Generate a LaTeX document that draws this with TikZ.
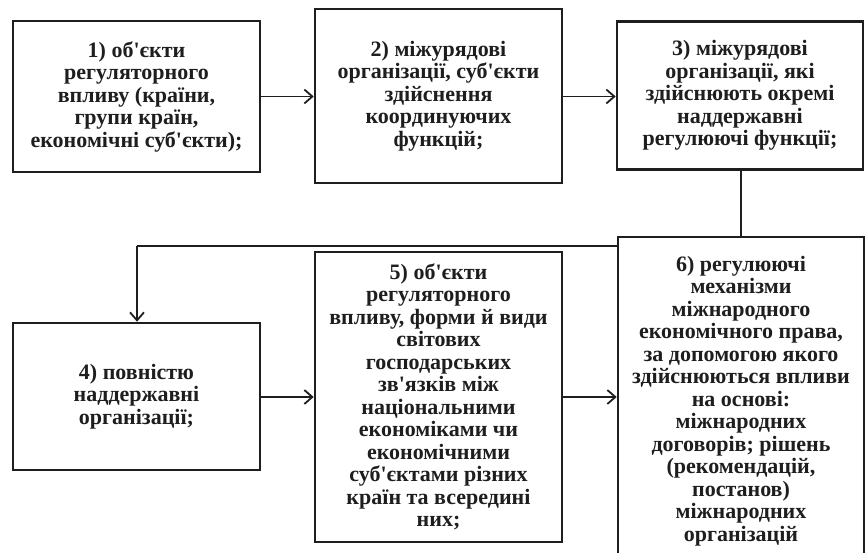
\documentclass[tikz,border=0pt]{standalone}
\usepackage{fontspec}
\setmainfont{Liberation Serif}
\usetikzlibrary{arrows.meta}
\newcommand\ap{\textquotesingle}
\definecolor{ink}{HTML}{1E1E1E}
\begin{document}
\begin{tikzpicture}[x=1pt,y=-1pt,
  box/.style={draw=ink, line width=2.6pt, fill=white, rectangle, inner sep=0pt,
    align=center, text=ink, font=\fontsize{22}{22.5}\selectfont\bfseries},
  conn/.style={draw=ink, line width=1.8pt},
  arr/.style={conn, -{Straight Barb[length=8pt,width=14pt,line width=1.8pt]}}]
\useasboundingbox (0,0) rectangle (865,552);
\fill[white] (0,0) rectangle (865,552);
% connector from box 3 down and left to box 4 (drawn before box 6)
\coordinate (t1) at (741,246);
\coordinate (t2) at (137,246);
\node[box, minimum width=247pt, minimum height=151pt] (b1) at (136.5,96.5)
  {1) об\ap єкти\\регуляторного\\впливу (країни,\\групи країн,\\економічні суб\ap єкти);};
\node[box, minimum width=247pt, minimum height=174pt] (b2) at (438.5,96)
  {2) міжурядові\\організації, суб\ap єкти\\здійснення\\координуючих\\функцій;};
\node[box, minimum width=246pt, minimum height=148pt] (b3) at (740,95.5)
  {3) міжурядові\\організації, які\\здійснюють окремі\\наддержавні\\регулюючі функції;};
\node[box, minimum width=247pt, minimum height=147pt] (b4) at (136.5,396.5)
  {4) повністю\\наддержавні\\організації;};
\node[box, minimum width=247pt, minimum height=290pt] (b5) at (438.5,397)
  {5) об\ap єкти\\регуляторного\\впливу, форми й види\\світових\\господарських\\зв\ap язків між\\національними\\економіками чи\\економічними\\суб\ap єктами різних\\країн та всередині\\них;};
\draw[conn] (b3.south -| t1) -- (t1) -- (t2);
\draw[arr] (t2) -- (t2 |- b4.north);
\node[box, minimum width=246pt, minimum height=328pt] (b6) at (741,401)
  {6) регулюючі\\механізми\\міжнародного\\економічного права,\\за допомогою якого\\здійснюються впливи\\на основі:\\міжнародних\\договорів; рішень\\(рекомендацій,\\постанов)\\міжнародних\\організацій};
\draw[arr] (b1.east) -- (b2.west |- b1.east);
\draw[arr] (b2.east |- b1.east) -- (b3.west |- b1.east);
\draw[arr] (b4.east |- 0,397) -- (b5.west |- 0,397);
\draw[arr] (b5.east |- 0,397) -- (b6.west |- 0,397);
\end{tikzpicture}
\end{document}
